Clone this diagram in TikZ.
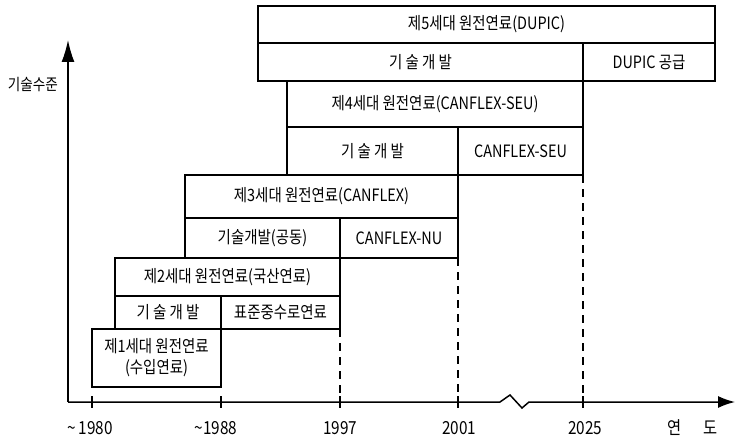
\documentclass[tikz,border=0pt]{standalone}
\usepackage{fontspec}
\setmainfont[FakeStretch=0.85]{Noto Sans CJK KR}
\usetikzlibrary{arrows.meta}
\newcommand\gbox[6]{\node[box, minimum width={(#4-#2)*1pt}, minimum height={(#5-#3)*1pt}] (#1) at ({(#2+#4)/2},{(#3+#5)/2}) {#6};}
\begin{document}
\begin{tikzpicture}[x=1pt,y=-1pt,
  box/.style={draw, line width=1.4pt, inner sep=0pt, outer sep=0pt, font=\fontsize{17}{21}\selectfont, align=center},
  axisline/.style={line width=1.5pt},
  dashline/.style={line width=1.3pt, dash pattern=on 8pt off 6pt},
  lbl/.style={inner sep=0pt, font=\fontsize{18}{20}\selectfont},
  tick/.style={line width=1.3pt}]
\useasboundingbox (0,0) rectangle (736,441);
% boxes
\gbox{g5h}{258}{6}{715}{43}{제5세대 원전연료(DUPIC)}
\gbox{g5t}{258}{43}{583}{81}{기 술 개 발}
\gbox{g5d}{583}{43}{715}{81}{DUPIC 공급}
\gbox{g4h}{287}{81}{583}{127}{제4세대 원전연료(CANFLEX-SEU)}
\gbox{g4t}{287}{127}{458}{175}{기 술 개 발}
\gbox{g4s}{458}{127}{583}{175}{CANFLEX-SEU}
\gbox{g3h}{185}{175}{458}{218}{제3세대 원전연료(CANFLEX)}
\gbox{g3t}{185}{218}{340}{258}{기술개발(공동)}
\gbox{g3n}{340}{218}{458}{258}{CANFLEX-NU}
\gbox{g2h}{115}{258}{340}{296}{제2세대 원전연료(국산연료)}
\gbox{g2t}{115}{296}{221}{329}{기 술 개 발}
\gbox{g2s}{221}{296}{340}{329}{표준중수로연료}
\gbox{g1}{92}{329}{221}{387}{제1세대 원전연료\\(수입연료)}
% axes
\coordinate (O) at (68,402);
\coordinate (ytip) at (68,40);
\coordinate (xtip) at (735,402);
\coordinate (z1) at (500,402);
\coordinate (z2) at (510,395);
\coordinate (z3) at (522,408);
\coordinate (z4) at (529,402);
\draw[axisline,-{Latex[length=22pt,width=13pt]}] (O) -- (ytip);
\draw[axisline,-{Latex[length=17pt,width=12pt]}] (O) -- (z1) -- (z2) -- (z3) -- (z4) -- (xtip);
\node[lbl, anchor=east, font=\fontsize{16}{18}\selectfont] (ylab) at (58,85) {기술수준};
% ticks and year labels
\foreach \n/\x in {t1980/92, t1988/221, t1997/340, t2001/458, t2025/583}{
  \coordinate (\n) at (\x,402);
  \draw[tick] (\x,396) -- (\x,408);
}
\node[lbl] (y1980) at (90,428) {\textasciitilde\ 1980};
\node[lbl] (y1988) at (216,428) {\textasciitilde1988};
\node[lbl] (y1997) at (340,428) {1997};
\node[lbl] (y2001) at (459,428) {2001};
\node[lbl] (y2025) at (585,428) {2025};
\node[lbl] (yyear) at (693,428) {연\hspace{22pt}도};
% dashed guides
\draw[dashline] (g2s.south east) -- (t1997);
\draw[dashline] (g3n.south east) -- (t2001);
\draw[dashline] (g4s.south east) -- (t2025);
\end{tikzpicture}
\end{document}
